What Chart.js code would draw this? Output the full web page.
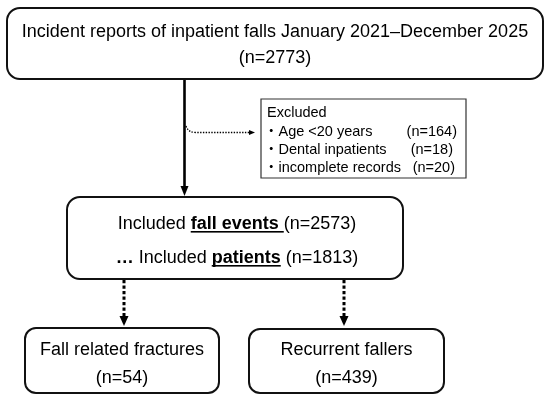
<!DOCTYPE html>
<html>
<head>
<meta charset="utf-8">
<script src="https://cdn.jsdelivr.net/npm/chart.js@4.4.1/dist/chart.umd.min.js"></script>
<style>
  html, body { margin: 0; padding: 0; background: #fff; }
</style>
</head>
<body>
<canvas id="chart" width="550" height="401"></canvas>
<script>
// flowchart data
const sourceLabel = 'Incident reports of inpatient falls January 2021–December 2025';
const sourceCount = 2773;
const excludedTitle = 'Excluded';
const excludedReasons = ['Age <20 years', 'Dental inpatients', 'incomplete records'];
const excludedCounts = [164, 18, 20];
const includedLabels = ['fall events', 'patients'];
const includedCounts = [2573, 1813];
const outcomeLabels = ['Fall related fractures', 'Recurrent fallers'];
const outcomeCounts = [54, 439];

// box layout in axis units (x 0..550, y 0..401 from the top)
const boxTop = { x1: 7, y1: 8, x2: 543, y2: 79 };
const boxExcluded = { x1: 261, y1: 99, x2: 466, y2: 178 };
const boxIncluded = { x1: 67, y1: 197, x2: 403, y2: 279 };
const boxOutcomes = [{ x1: 25, y1: 328, x2: 219, y2: 393 }, { x1: 249, y1: 329, x2: 444, y2: 393 }];

const FONT = '"Liberation Sans", Arial, "Noto Sans CJK JP", sans-serif';
const SIZE = 18;

function P(chart, x, y) {
    return [chart.scales.x.getPixelForValue(x), chart.scales.y.getPixelForValue(y)];
}

function drawBox(ctx, chart, b, lw, r, color) {
    const [x1, y1] = P(chart, b.x1, b.y1);
    const [x2, y2] = P(chart, b.x2, b.y2);
    ctx.save();
    ctx.lineWidth = lw;
    ctx.strokeStyle = color;
    ctx.fillStyle = '#fff';
    ctx.beginPath();
    if (r > 0) ctx.roundRect(x1, y1, x2 - x1, y2 - y1, r);
    else ctx.rect(x1, y1, x2 - x1, y2 - y1);
    ctx.fill();
    ctx.stroke();
    ctx.restore();
}

// text made of pieces, some bold/underlined, centred at cx
function drawRuns(ctx, runs, cx, y, size) {
    ctx.save();
    ctx.textBaseline = 'alphabetic';
    ctx.textAlign = 'left';
    ctx.fillStyle = '#000';
    let total = 0;
    runs.forEach(r => {
        ctx.font = (r.bold ? 'bold ' : '') + size + 'px ' + FONT;
        r.w = ctx.measureText(r.t).width;
        total += r.w;
    });
    let x = cx - total / 2;
    runs.forEach(r => {
        ctx.font = (r.bold ? 'bold ' : '') + size + 'px ' + FONT;
        ctx.fillText(r.t, x, y);
        if (r.u) {
            ctx.fillRect(x, y + 2, r.w, 1.6);
        }
        x += r.w;
    });
    ctx.restore();
}

function arrowHead(ctx, x, tipY, w, h, dir) {
    ctx.beginPath();
    if (dir === 'down') {
        ctx.moveTo(x, tipY);
        ctx.lineTo(x - w / 2, tipY - h);
        ctx.lineTo(x + w / 2, tipY - h);
    } else {
        ctx.moveTo(x, tipY);
        ctx.lineTo(x - h, tipY - w / 2);
        ctx.lineTo(x - h, tipY + w / 2);
    }
    ctx.closePath();
    ctx.fill();
}

const flowPlugin = {
    id: 'flow',
    afterDraw(chart) {
        const ctx = chart.ctx;
        ctx.save();
        ctx.fillStyle = '#000';
        ctx.strokeStyle = '#000';

        // solid arrow top -> included
        let [ax, ay1] = P(chart, 184.5, 79);
        let [, ay2] = P(chart, 184.5, 188);
        ctx.lineWidth = 2.6;
        ctx.beginPath();
        ctx.moveTo(ax, ay1);
        ctx.lineTo(ax, ay2);
        ctx.stroke();
        arrowHead(ctx, ax, P(chart, 0, 196)[1], 8, 10, 'down');

        // dotted connector to the excluded box
        const [cx0, cy0] = P(chart, 186, 126);
        const [cx1, cy1] = P(chart, 196, 132.5);
        const [cx2] = P(chart, 249, 132.5);
        ctx.lineWidth = 1.3;
        ctx.setLineDash([1.4, 1.4]);
        ctx.beginPath();
        ctx.moveTo(cx0, cy0);
        ctx.quadraticCurveTo(cx0 + 2, cy1, cx1, cy1);
        ctx.lineTo(cx2, cy1);
        ctx.stroke();
        ctx.setLineDash([]);
        arrowHead(ctx, P(chart, 255, 0)[0], cy1, 5, 6, 'right');

        // dotted arrows to outcomes
        [124, 344].forEach(x => {
            const [dx, dy1] = P(chart, x, 280);
            const [, dy2] = P(chart, x, 317);
            ctx.lineWidth = 3;
            ctx.setLineDash([3.2, 2.3]);
            ctx.beginPath();
            ctx.moveTo(dx, dy1);
            ctx.lineTo(dx, dy2);
            ctx.stroke();
            ctx.setLineDash([]);
            arrowHead(ctx, dx, P(chart, 0, 326)[1], 9, 10, 'down');
        });
        ctx.restore();

        // boxes
        drawBox(ctx, chart, boxTop, 2, 13, '#111');
        drawBox(ctx, chart, boxExcluded, 1.2, 0, '#333');
        drawBox(ctx, chart, boxIncluded, 2, 13, '#111');
        boxOutcomes.forEach(b => drawBox(ctx, chart, b, 2, 11, '#111'));

        // top box text
        let [mx] = P(chart, (boxTop.x1 + boxTop.x2) / 2, 0);
        drawRuns(ctx, [{ t: sourceLabel }], mx, P(chart, 0, 37)[1], SIZE);
        drawRuns(ctx, [{ t: '(n=' + sourceCount + ')' }], mx, P(chart, 0, 63)[1], SIZE);

        // excluded box text
        ctx.save();
        ctx.fillStyle = '#000';
        ctx.font = '14.5px ' + FONT;
        ctx.textAlign = 'left';
        ctx.fillText(excludedTitle, P(chart, 267, 0)[0], P(chart, 0, 117)[1]);
        const countRight = [457, 453, 455];
        excludedReasons.forEach((r, i) => {
            const y = P(chart, 0, 136 + i * 18)[1];
            const x0 = P(chart, 264, 0)[0];
            const txt = '・' + r;
            ctx.fillText(txt, x0, y);
            const endX = x0 + ctx.measureText(txt + ' ').width;
            const c = '(n=' + excludedCounts[i] + ')';
            const cw = ctx.measureText(c).width;
            const cx = Math.max(endX, P(chart, countRight[i], 0)[0] - cw);
            ctx.fillText(c, cx, y);
        });
        ctx.restore();

        // included box text
        [mx] = P(chart, (boxIncluded.x1 + boxIncluded.x2) / 2 + 2, 0);
        drawRuns(ctx, [
            { t: 'Included ' },
            { t: includedLabels[0] + ' ', bold: true, u: true },
            { t: '(n=' + includedCounts[0] + ')' }
        ], mx, P(chart, 0, 229)[1], SIZE);
        drawRuns(ctx, [
            { t: '…', bold: true },
            { t: ' Included ' },
            { t: includedLabels[1], bold: true, u: true },
            { t: ' (n=' + includedCounts[1] + ')' }
        ], mx, P(chart, 0, 263)[1], SIZE);

        // outcome boxes text
        boxOutcomes.forEach((b, i) => {
            const [bx] = P(chart, (b.x1 + b.x2) / 2, 0);
            drawRuns(ctx, [{ t: outcomeLabels[i] }], bx, P(chart, 0, 355)[1], SIZE);
            drawRuns(ctx, [{ t: '(n=' + outcomeCounts[i] + ')' }], bx, P(chart, 0, 383)[1], SIZE);
        });
    }
};

const chart = new Chart(document.getElementById('chart').getContext('2d'), {
    type: 'scatter',
    data: { datasets: [{ data: [], pointRadius: 0 }] },
    options: {
        responsive: false,
        animation: false,
        layout: { padding: 0 },
        plugins: { legend: { display: false }, tooltip: { enabled: false } },
        scales: {
            x: { type: 'linear', min: 0, max: 550, display: false },
            y: { type: 'linear', min: 0, max: 401, reverse: true, display: false }
        }
    },
    plugins: [flowPlugin]
});
</script>
</body>
</html>
